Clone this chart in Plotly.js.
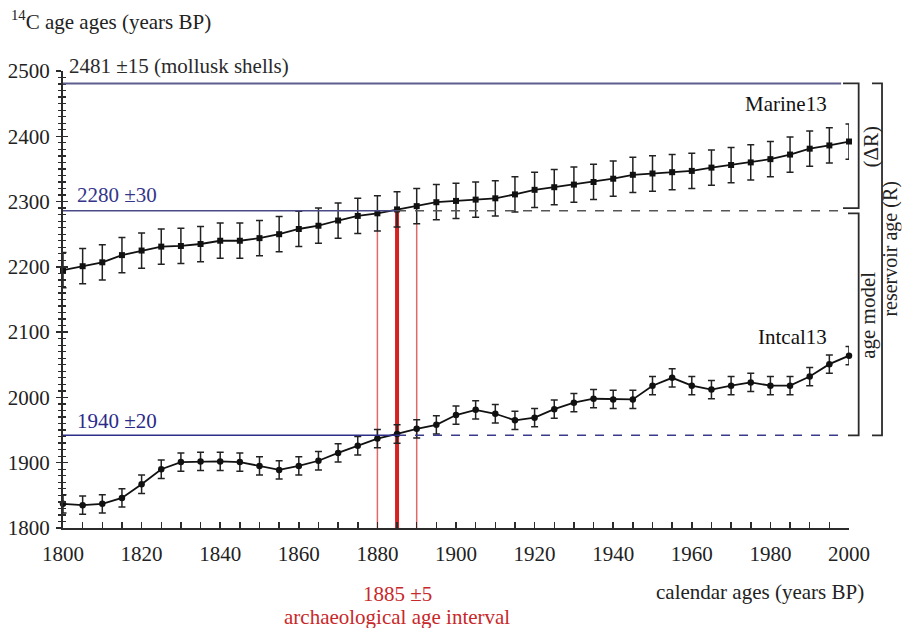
<!DOCTYPE html>
<html>
<head>
<meta charset="utf-8">
<script src="https://cdn.plot.ly/plotly-3.0.1.min.js"></script>
<style>html,body{margin:0;padding:0;background:#fff;}#chart{width:902px;height:628px;}</style>
</head>
<body>
<div id="chart"></div>
<script>
// ---- data ----
const years = [1800,1805,1810,1815,1820,1825,1830,1835,1840,1845,1850,1855,1860,1865,1870,1875,1880,1885,1890,1895,
               1900,1905,1910,1915,1920,1925,1930,1935,1940,1945,1950,1955,1960,1965,1970,1975,1980,1985,1990,1995,2000];
const marine13 = [2195,2201,2207,2218,2225,2231,2232,2235,2240,2240,2244,2250,2258,2263,2271,2278,2282,2288,2293,2299,
                  2301,2303,2305,2311,2318,2322,2326,2330,2335,2341,2343,2345,2347,2352,2356,2360,2365,2372,2381,2386,2392];
const marine13Err = [27,27,27,27,27,27,27,27,27,27,27,27,27,27,27,27,27,27,27,27,
                     27,27,27,27,27,27,27,27,27,27,27,27,27,27,27,27,27,27,27,27,27];
const intcal13 = [1837,1835,1837,1846,1867,1890,1901,1902,1902,1901,1895,1889,1895,1903,1915,1926,1937,1944,1952,1958,
                  1973,1981,1975,1965,1969,1982,1992,1998,1997,1997,2018,2030,2018,2012,2018,2023,2018,2018,2032,2051,2064];
const intcal13Err = [14,14,14,14,14,14,14,14,14,14,14,14,14,14,14,14,14,14,14,14,
                     14,14,14,14,14,14,14,14,14,14,14,14,14,14,14,14,14,14,14,14,14];
const shellAge = 2481;          // 2481 ±15 (mollusk shells)
const marineLevel = 2286;       // 2280 ±30
const intcalLevel = 1942;       // 1940 ±20
const archYear = 1885, archErr = 5;
const lineEnd = 1998;
const xTicks = [1800,1820,1840,1860,1880,1900,1920,1940,1960,1980,2000];
const yTicks = [1800,1900,2000,2100,2200,2300,2400,2500];

const SERIF = 'Liberation Serif, Times New Roman, serif';
const DARK = '#2b2b2b';
const FS = 21;

const idx = y => years.indexOf(y);

const traces = [
  {x: years, y: marine13, type: 'scatter', mode: 'lines+markers', name: 'Marine13',
   line: {color: '#111', width: 1.8}, marker: {symbol: 'square', size: 6, color: '#111'},
   error_y: {type: 'data', array: marine13Err, visible: true, color: '#222', thickness: 1.5, width: 3.5},
   hoverinfo: 'x+y', showlegend: false, cliponaxis: false},
  {x: years, y: intcal13, type: 'scatter', mode: 'lines+markers', name: 'Intcal13',
   line: {color: '#111', width: 1.8}, marker: {symbol: 'circle', size: 6.5, color: '#111'},
   error_y: {type: 'data', array: intcal13Err, visible: true, color: '#222', thickness: 1.5, width: 3.5},
   hoverinfo: 'x+y', showlegend: false, cliponaxis: false},
  {x: [1800], y: [1800], yaxis: 'y2', type: 'scatter', mode: 'markers', marker: {opacity: 0},
   hoverinfo: 'skip', showlegend: false}
];

const shapes = [
  // horizontal reference lines
  {type: 'line', xref: 'x', yref: 'y', x0: 1800, x1: lineEnd, y0: shellAge, y1: shellAge, line: {color: '#5d5d8e', width: 2}},
  {type: 'line', xref: 'x', yref: 'y', x0: 1800, x1: archYear, y0: marineLevel, y1: marineLevel, line: {color: '#4a4a86', width: 1.6}},
  {type: 'line', xref: 'x', yref: 'y', x0: archYear, x1: lineEnd, y0: marineLevel, y1: marineLevel, line: {color: '#555', width: 1.4, dash: 'dash'}},
  {type: 'line', xref: 'x', yref: 'y', x0: 1800, x1: archYear, y0: intcalLevel, y1: intcalLevel, line: {color: '#2e2e8a', width: 1.6}},
  {type: 'line', xref: 'x', yref: 'y', x0: archYear, x1: lineEnd, y0: intcalLevel, y1: intcalLevel, line: {color: '#3a3a8a', width: 1.4, dash: 'dash'}},
  // archaeological age interval (red)
  {type: 'line', xref: 'x', yref: 'y', layer: 'below', x0: archYear - archErr, x1: archYear - archErr, y0: 1800,
   y1: marine13[idx(archYear - archErr)] - marine13Err[idx(archYear - archErr)], line: {color: '#e06a6a', width: 1.5}},
  {type: 'line', xref: 'x', yref: 'y', layer: 'below', x0: archYear + archErr, x1: archYear + archErr, y0: 1800,
   y1: marine13[idx(archYear + archErr)] - marine13Err[idx(archYear + archErr)], line: {color: '#e06a6a', width: 1.5}},
  {type: 'line', xref: 'x', yref: 'y', layer: 'below', x0: archYear, x1: archYear, y0: 1800,
   y1: marine13[idx(archYear)], line: {color: '#d42222', width: 4}},
  // brackets on the right
  {type: 'path', xref: 'paper', yref: 'y',
   path: `M 0.9924 ${shellAge} L 1.0123 ${shellAge} L 1.0123 ${marineLevel + 4} L 0.9924 ${marineLevel + 4}`,
   line: {color: DARK, width: 1.8}},
  {type: 'path', xref: 'paper', yref: 'y',
   path: `M 0.9987 ${marineLevel - 4} L 1.0123 ${marineLevel - 4} L 1.0123 ${intcalLevel} L 0.9987 ${intcalLevel}`,
   line: {color: DARK, width: 1.8}},
  {type: 'path', xref: 'paper', yref: 'y',
   path: `M 1.0293 ${shellAge} L 1.0420 ${shellAge} L 1.0420 ${intcalLevel} L 1.0293 ${intcalLevel}`,
   line: {color: DARK, width: 1.8}}
];

const txt = (size, color) => ({family: SERIF, size: size, color: color});
const annotations = [
  {xref: 'paper', yref: 'paper', x: -0.069, y: 1.11, xanchor: 'left', yanchor: 'middle', showarrow: false,
   text: '<sup>14</sup>C age ages (years BP)', font: txt(FS, '#222')},
  {xref: 'x', yref: 'y', x: 1801, y: shellAge, xanchor: 'left', yanchor: 'bottom', showarrow: false, yshift: 3,
   text: '2481 ±15 (mollusk shells)', font: txt(FS, '#2a2a2a')},
  {xref: 'x', yref: 'y', x: 1803, y: marineLevel, xanchor: 'left', yanchor: 'bottom', showarrow: false, yshift: 2,
   text: '2280 ±30', font: txt(FS, '#35358a')},
  {xref: 'x', yref: 'y', x: 1803, y: intcalLevel, xanchor: 'left', yanchor: 'bottom', showarrow: false,
   text: '1940 ±20', font: txt(FS, '#2a2a8a')},
  {xref: 'x', yref: 'y', x: 1995, y: 2449, xanchor: 'right', yanchor: 'middle', showarrow: false,
   text: 'Marine13', font: txt(FS, '#111')},
  {xref: 'x', yref: 'y', x: 1995, y: 2093, xanchor: 'right', yanchor: 'middle', showarrow: false,
   text: 'Intcal13', font: txt(FS, '#111')},
  {xref: 'x', yref: 'paper', x: archYear, y: -0.144, xanchor: 'center', yanchor: 'middle', showarrow: false,
   text: archYear + ' ±' + archErr, font: txt(FS, '#c8282a')},
  {xref: 'x', yref: 'paper', x: archYear, y: -0.195, xanchor: 'center', yanchor: 'middle', showarrow: false,
   text: 'archaeological age interval', font: txt(FS, '#c8282a')},
  {xref: 'paper', yref: 'paper', x: 1.0216, y: -0.140, xanchor: 'right', yanchor: 'middle', showarrow: false,
   text: 'calendar ages (years BP)', font: txt(FS, '#222')},
  {xref: 'paper', yref: 'y', x: 1.0285, y: 2385, xanchor: 'center', yanchor: 'middle',
   showarrow: false, textangle: -90, text: '(ΔR)', font: txt(FS, '#222')},
  {xref: 'paper', yref: 'y', x: 1.0250, y: 2126, xanchor: 'center', yanchor: 'middle',
   showarrow: false, textangle: -90, text: 'age model', font: txt(FS, '#222')},
  {xref: 'paper', yref: 'y', x: 1.0522, y: 2228, xanchor: 'center', yanchor: 'middle', height: 22, borderpad: 0,
   showarrow: false, textangle: -90, text: 'reservoir age (R)', font: txt(20, '#222')}
];

const layout = {
  width: 902, height: 628,
  margin: {l: 63, r: 53, t: 71, b: 100},
  paper_bgcolor: '#fff', plot_bgcolor: '#fff',
  showlegend: false,
  xaxis: {range: [1800, 2000], tickmode: 'array', tickvals: xTicks, ticktext: xTicks.map(String),
          ticks: 'inside', ticklen: 6, tickwidth: 1.5, tickcolor: DARK,
          showline: true, linecolor: DARK, linewidth: 2, showgrid: false, zeroline: false,
          tickfont: txt(FS, '#222'), ticklabelstandoff: 6,
          minor: {dtick: 5, tick0: 1800, ticks: 'inside', ticklen: 6, tickwidth: 1.5, tickcolor: DARK, showgrid: false}},
  yaxis: {range: [1800, 2500], tickmode: 'array', tickvals: yTicks, ticktext: yTicks.map(String),
          ticks: 'outside', ticklen: 5, tickwidth: 1.5, tickcolor: DARK,
          showline: true, linecolor: DARK, linewidth: 2, showgrid: false, zeroline: false,
          tickfont: txt(FS, '#222'), ticklabelstandoff: 2,
          minor: {dtick: 10, tick0: 1800, ticks: 'outside', ticklen: 3, tickwidth: 1.3, tickcolor: DARK, showgrid: false}},
  yaxis2: {range: [1800, 2500], overlaying: 'y', side: 'left', anchor: 'x', tickmode: 'array', tickvals: yTicks,
           ticks: 'inside', ticklen: 5, tickwidth: 1.5, tickcolor: DARK, showticklabels: false,
           showline: false, showgrid: false, zeroline: false,
           minor: {dtick: 10, tick0: 1800, ticks: 'inside', ticklen: 3, tickwidth: 1.3, tickcolor: DARK, showgrid: false}},
  shapes: shapes,
  annotations: annotations
};

Plotly.newPlot('chart', traces, layout, {displayModeBar: false, staticPlot: true});
</script>
</body>
</html>
